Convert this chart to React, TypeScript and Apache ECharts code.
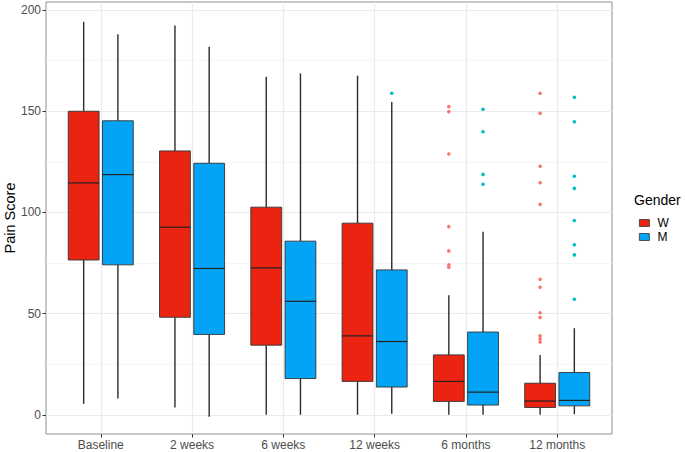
import React, { useEffect, useRef } from "react";
import * as echarts from "echarts";

const categories = ["Baseline", "2 weeks", "6 weeks", "12 weeks", "6 months", "12 months"];

// Women (W)
const wLow = [5.4, 3.6, 0, 0, 0, 0];
const wQ1 = [76.5, 48.2, 34.4, 16.5, 6.6, 3.6];
const wMed = [114.6, 92.7, 72.6, 39.0, 16.5, 6.8];
const wQ3 = [150.0, 130.4, 102.6, 94.7, 29.6, 15.6];
const wHigh = [194.2, 192.4, 167.1, 167.6, 59.1, 29.5];
const wOutliers: [number, number][] = [
  [4, 152.3], [4, 149.8], [4, 128.9], [4, 93.0], [4, 81.0], [4, 74.1], [4, 72.9],
  [5, 158.9], [5, 149.0], [5, 122.8], [5, 114.7], [5, 104.0], [5, 67.0], [5, 63.0],
  [5, 50.4], [5, 48.1], [5, 39.0], [5, 37.5], [5, 36.0],
];

// Men (M)
const mLow = [8.1, -1.0, 0, 0.5, 0, 0.3];
const mQ1 = [74.1, 39.7, 17.9, 13.7, 4.8, 4.4];
const mMed = [118.7, 72.3, 56.1, 36.2, 11.2, 7.1];
const mQ3 = [145.3, 124.3, 85.8, 71.6, 40.9, 20.9];
const mHigh = [188.0, 181.9, 168.7, 154.6, 90.5, 42.8];
const mOutliers: [number, number][] = [
  [3, 158.9],
  [4, 151.0], [4, 139.9], [4, 118.8], [4, 113.9],
  [5, 156.9], [5, 144.8], [5, 117.9], [5, 111.9], [5, 96.0], [5, 84.0], [5, 79.0], [5, 57.1],
];

const xTicks = [1, 2, 3, 4, 5, 6];
const yTicks = [0, 50, 100, 150, 200];
const yMinor = [25, 75, 125, 175];

const FILL = { W: "#EB2311", M: "#03A4F6" };
const POINT = { W: "#F8766D", M: "#00BFC4" };
const DODGE = 0.1875;
const BOX_W = 0.3375;
const FONT = "'Liberation Sans', Arial, Helvetica, sans-serif";

function boxData(low: number[], q1: number[], med: number[], q3: number[], high: number[]) {
  return categories.map((_, i) => [i + 1, low[i], q1[i], med[i], q3[i], high[i]]);
}

function makeRender(offset: number, color: string) {
  return (params: any, api: any) => {
    const x = api.value(0) + offset;
    const unit = api.size([1, 0])[0];
    const half = (BOX_W * unit) / 2;
    const cx = api.coord([x, 0])[0];
    const yl = api.coord([x, api.value(1)])[1];
    const y1 = api.coord([x, api.value(2)])[1];
    const ym = api.coord([x, api.value(3)])[1];
    const y3 = api.coord([x, api.value(4)])[1];
    const yh = api.coord([x, api.value(5)])[1];
    const wStyle = { stroke: "#2b2b2b", lineWidth: 1.4 };
    return {
      type: "group",
      children: [
        { type: "line", shape: { x1: cx, y1: yh, x2: cx, y2: y3 }, style: wStyle },
        { type: "line", shape: { x1: cx, y1: y1, x2: cx, y2: yl }, style: wStyle },
        {
          type: "rect",
          shape: { x: cx - half, y: y3, width: 2 * half, height: y1 - y3 },
          style: { fill: color, stroke: "#333333", lineWidth: 0.9 },
        },
        {
          type: "line",
          shape: { x1: cx - half, y1: ym, x2: cx + half, y2: ym },
          style: { stroke: "#222222", lineWidth: 1.2 },
        },
      ],
    };
  };
}

export default function App() {
  const ref = useRef<HTMLDivElement>(null);
  useEffect(() => {
    if (!ref.current) return;
    const chart = echarts.init(ref.current, null, { renderer: "svg" });
    const option: any = {
      animation: false,
      backgroundColor: "#ffffff",
      textStyle: { fontFamily: FONT },
      grid: {
        left: 46, right: 73, top: 2, bottom: 18,
        containLabel: false, outerBoundsMode: "none",
        show: true, borderColor: "#8f8f8f", borderWidth: 1, backgroundColor: "transparent",
      },
      xAxis: [
        {
          type: "value", min: 0.4, max: 6.6, position: "bottom",
          axisLine: { show: false, onZero: false },
          axisTick: { show: true, length: 3.5, lineStyle: { color: "#333333", width: 1 }, customValues: xTicks },
          axisLabel: {
            customValues: xTicks,
            formatter: (v: number) => categories[Math.round(v) - 1] ?? "",
            color: "#4D4D4D", fontSize: 12, margin: 5, fontFamily: FONT,
          },
          splitLine: { show: true, lineStyle: { color: "#EBEBEB", width: 1.2 } },
        },
      ],
      yAxis: [
        {
          type: "value", min: -9.5, max: 204,
          name: "Pain Score", nameLocation: "middle", nameGap: 29, nameRotate: 90,
          nameMoveOverlap: false,
          nameTextStyle: { color: "#000000", fontSize: 14.5, fontFamily: FONT },
          axisLine: { show: false, onZero: false },
          axisTick: { show: true, length: 3.5, lineStyle: { color: "#333333", width: 1 }, customValues: yTicks },
          axisLabel: { customValues: yTicks, color: "#4D4D4D", fontSize: 12, margin: 5, fontFamily: FONT },
          splitLine: { show: true, lineStyle: { color: "#EBEBEB", width: 1.2 } },
        },
        {
          type: "value", min: -9.5, max: 204, position: "left",
          axisLine: { show: false, onZero: false },
          axisTick: { show: false, customValues: yMinor },
          axisLabel: { show: false, customValues: yMinor },
          splitLine: { show: true, lineStyle: { color: "#F3F3F3", width: 0.8 } },
        },
      ],
      legend: {
        left: 634, top: 212, orient: "vertical", itemGap: 2,
        itemWidth: 10, itemHeight: 7, icon: "rect",
        data: [
          { name: "W", itemStyle: { color: FILL.W, borderColor: "#333333", borderWidth: 0.8 } },
          { name: "M", itemStyle: { color: FILL.M, borderColor: "#333333", borderWidth: 0.8 } },
        ],
        textStyle: { color: "#000000", fontSize: 12, fontFamily: FONT, padding: [0, 0, 0, 3] },
        selectedMode: false,
      },
      graphic: [
        {
          type: "text", left: 634, top: 193,
          style: { text: "Gender", fill: "#000000", fontSize: 14, fontFamily: FONT },
        },
      ],
      series: [
        {
          name: "W", type: "custom", xAxisIndex: 0, yAxisIndex: 0,
          itemStyle: { color: FILL.W },
          encode: { x: 0, y: [1, 2, 3, 4, 5] },
          renderItem: makeRender(-DODGE, FILL.W),
          data: boxData(wLow, wQ1, wMed, wQ3, wHigh),
          z: 3,
        },
        {
          name: "M", type: "custom", xAxisIndex: 0, yAxisIndex: 0,
          itemStyle: { color: FILL.M },
          encode: { x: 0, y: [1, 2, 3, 4, 5] },
          renderItem: makeRender(DODGE, FILL.M),
          data: boxData(mLow, mQ1, mMed, mQ3, mHigh),
          z: 3,
        },
        {
          name: "W outliers", type: "scatter", xAxisIndex: 0, yAxisIndex: 0,
          symbolSize: 3.6, itemStyle: { color: POINT.W, opacity: 1 },
          data: wOutliers.map(([c, v]) => [c + 1 - DODGE, v]),
          z: 4,
        },
        {
          name: "M outliers", type: "scatter", xAxisIndex: 0, yAxisIndex: 0,
          symbolSize: 3.6, itemStyle: { color: POINT.M, opacity: 1 },
          data: mOutliers.map(([c, v]) => [c + 1 + DODGE, v]),
          z: 4,
        },
      ],
    };
    chart.setOption(option);
    return () => chart.dispose();
  }, []);
  return <div ref={ref} style={{ width: 685, height: 452, position: "absolute", left: 0, top: 0 }} />;
}
